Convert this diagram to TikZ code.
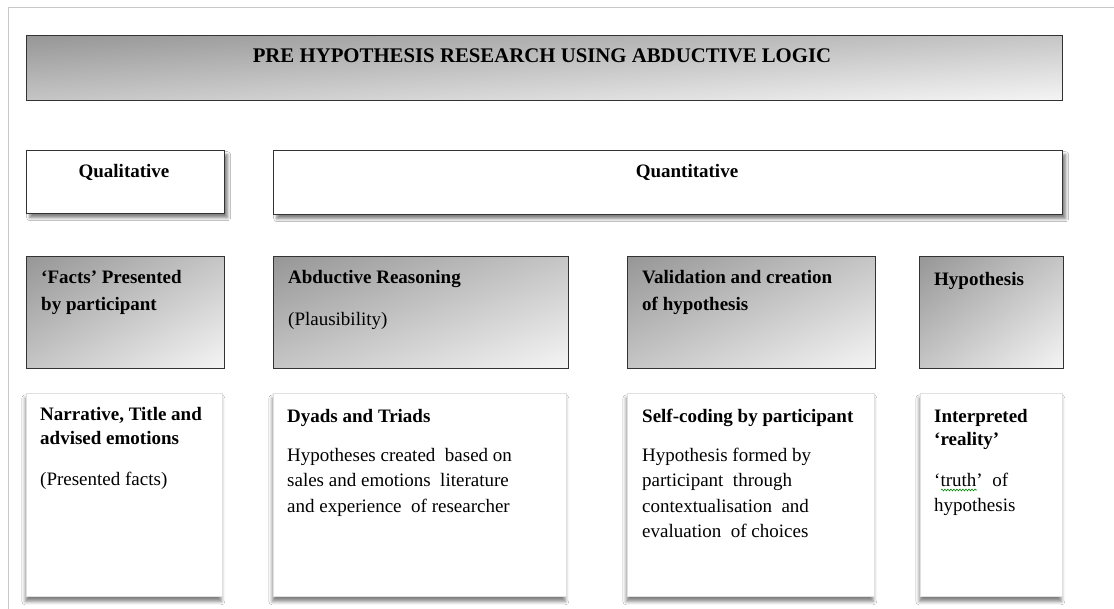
\documentclass[tikz,border=0pt]{standalone}
\usepackage{fontspec}
\setmainfont{Liberation Serif}
\usetikzlibrary{shadows.blur,decorations.pathmorphing}

% corner-to-corner grey gradient: dark at the upper left, pale at the lower right
\pgfdeclarefunctionalshading{cornergrey}{\pgfpoint{0bp}{0bp}}{\pgfpoint{100bp}{100bp}}{}{
  exch 25 sub exch 75 exch sub add 100 div
  0.37 mul 0.59 add dup dup
}

\tikzset{
  outline/.style={draw=black!80, line width=1.4pt, inner sep=0pt, anchor=north west},
  band/.style={outline, shading=cornergrey},
  plainbox/.style={outline, fill=white,
    blur shadow={shadow xshift=3pt, shadow yshift=-4pt, shadow blur radius=3pt, shadow opacity=50}},
  notebox/.style={draw=black!12, line width=0.6pt, fill=white, inner sep=0pt, anchor=north west,
    blur shadow={shadow xshift=-1pt, shadow yshift=-5pt, shadow blur radius=3.5pt, shadow opacity=50}},
  head/.style={anchor=base west, inner sep=0pt, align=left,
    font=\fontsize{19}{25}\selectfont\bfseries},
  body/.style={anchor=base west, inner sep=0pt, align=left,
    font=\fontsize{19}{25.5}\selectfont},
}
\newcommand{\lines}[1]{\begin{tabular}[t]{@{}l@{}}#1\end{tabular}}

\begin{document}
\begin{tikzpicture}[x=1pt,y=-1pt]
\useasboundingbox (0,0) rectangle (1114,608);
\fill[white] (0,0) rectangle (1114,608);

% page frame
\draw[black!22, line width=1.5pt] (8.5,620) -- (8.5,7.5) -- (1120,7.5);

% title band
\node[band, minimum width=1036pt, minimum height=65pt] (title) at (26,35) {};
\node[anchor=base, inner sep=0pt, font=\fontsize{20.8}{24}\selectfont\bfseries] (titletext) at (542,62)
  {PRE HYPOTHESIS RESEARCH USING ABDUCTIVE LOGIC};

% method boxes
\node[plainbox, minimum width=198pt, minimum height=63pt] (qual) at (26,150) {};
\node[plainbox, minimum width=789pt, minimum height=64pt] (quant) at (273,150) {};
\node[head, anchor=base] (qualtext) at (124,177) {Qualitative};
\node[head, anchor=base] (quanttext) at (687,177) {Quantitative};

% stage boxes
\node[band, minimum width=198pt, minimum height=112pt] (g1) at (26,256) {};
\node[band, minimum width=295pt, minimum height=112pt] (g2) at (273,256) {};
\node[band, minimum width=248pt, minimum height=112pt] (g3) at (627,256) {};
\node[band, minimum width=144pt, minimum height=112pt] (g4) at (919,256) {};

\node[head] (g1h) at (41,283) {\lines{‘Facts’ Presented\\[2pt] by participant}};
\node[head] (g2h) at (288,283) {Abductive Reasoning};
\node[body] (g2b) at (288,325) {(Plausibility)};
\node[head] (g3h) at (642,283) {\lines{Validation and creation\\[2pt] of hypothesis}};
\node[head] (g4h) at (934,285) {Hypothesis};

% detail boxes
\node[notebox, minimum width=196pt, minimum height=203pt] (w1) at (26,393) {};
\node[notebox, minimum width=293pt, minimum height=203pt] (w2) at (273,393) {};
\node[notebox, minimum width=247pt, minimum height=203pt] (w3) at (627,393) {};
\node[notebox, minimum width=142pt, minimum height=203pt] (w4) at (920,393) {};

\node[head] (w1h) at (40,420) {\lines{Narrative, Title and\\[-1pt] advised emotions}};
\node[body] (w1b) at (40,485) {(Presented facts)};

\node[head] (w2h) at (287,422) {Dyads and Triads};
\node[body] (w2b) at (287,461) {\lines{Hypotheses created \ based on\\ sales and emotions \ literature\\ and experience \ of researcher}};

\node[head] (w3h) at (642,422) {Self-coding by participant};
\node[body] (w3b) at (642,461) {\lines{Hypothesis formed by\\ participant \ through\\ contextualisation \ and\\ evaluation \ of choices}};

\node[head] (w4h) at (934,422) {\lines{Interpreted\\[-2pt] ‘reality’}};
\node[body] (w4b) at (934,486) {\lines{‘truth’ \ of\\ hypothesis}};

% spell-check squiggle under the word truth
\coordinate (sqA) at (941,490);
\coordinate (sqB) at (977,490);
\draw[green!55!black, line width=0.6pt, decorate,
  decoration={snake, amplitude=0.9pt, segment length=3pt}] (sqA) -- (sqB);
\end{tikzpicture}
\end{document}
